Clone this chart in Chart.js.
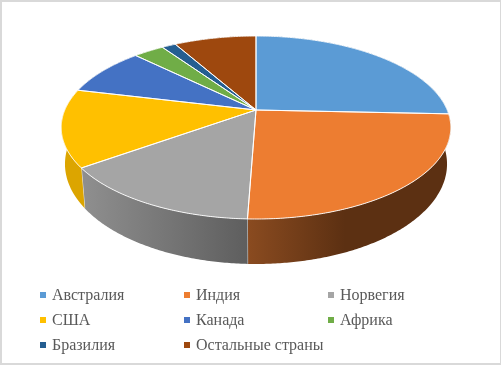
<!DOCTYPE html>
<html>
<head>
<meta charset="utf-8">
<style>
  html, body { margin: 0; padding: 0; background: #fff; }
  #wrap { position: relative; width: 501px; height: 365px; overflow: hidden; }
  #wrap:after { content: ''; position: absolute; left: 0; top: 0; right: 0; bottom: 0;
    border: solid #d9d9d9; border-width: 2px 1px 2px 2px; }
  canvas { position: absolute; left: 0; top: 0; }
  #legend { position: absolute; left: 40px; top: 282px; display: grid;
    grid-template-columns: 144px 144px 144px; grid-auto-rows: 25px;
    font: 16px "Liberation Serif", serif; color: #595959; }
  #legend div { display: flex; align-items: center; white-space: nowrap; }
  #legend i { width: 6px; height: 6px; margin-right: 6px; }
</style>
</head>
<body>
<div id="wrap">
  <canvas id="pie" width="501" height="365"></canvas>
  <div id="legend"></div>
</div>
<script src="https://cdn.jsdelivr.net/npm/chart.js@4"></script>
<script>
const categories = ['Австралия', 'Индия', 'Норвегия', 'США', 'Канада', 'Африка', 'Бразилия', 'Остальные страны'];
const shares = [25.7, 24.9, 14.5, 13.7, 8.6, 3.05, 1.4, 8.2];
const topColors = ['#5B9BD5', '#ED7D31', '#A5A5A5', '#FFC000', '#4472C4', '#70AD47', '#255E91', '#9E480E'];
const sideFrom = ['#3a6d9c', '#8a4b20', '#8e8e8e', '#dca500', '#2f528f', '#4e7a30', '#183f63', '#6b300a'];
const sideTo = ['#3a6d9c', '#5c3012', '#5e5e5e', '#dca500', '#2f528f', '#4e7a30', '#183f63', '#6b300a'];

// Наклонённый диск: проекция единичного круга на экран
const tilt = 0.1913;
const topDisc = { x: 256, y: 110, a: 191.2, b: 88.15 };
const baseDisc = { x: 256, y: 144.9, a: 187.5, b: 96.3 };

function project(disc, angle) {
  const u = Math.cos(angle), v = Math.sin(angle);
  const w = 1 - tilt * v;
  return [disc.x + disc.a * u / w, disc.y + disc.b * v / w];
}

function rimPoints(disc, start, end) {
  const pts = [];
  const steps = Math.max(2, Math.ceil((end - start) / 0.01));
  for (let i = 0; i <= steps; i++) pts.push(project(disc, start + (end - start) * i / steps));
  return pts;
}

const pie3d = {
  id: 'pie3d',
  beforeDatasetsDraw(chart) {
    const ctx = chart.ctx;
    const arcs = chart.getDatasetMeta(0).data;
    ctx.save();
    ctx.lineJoin = 'round';

    // боковые стенки
    arcs.forEach((arc, i) => {
      const upper = rimPoints(topDisc, arc.startAngle, arc.endAngle);
      const lower = rimPoints(baseDisc, arc.startAngle, arc.endAngle).reverse();
      const grad = ctx.createLinearGradient(i === 1 ? 248 : 86, 0, i === 1 ? 345 : 248, 0);
      grad.addColorStop(0, sideFrom[i]);
      grad.addColorStop(1, sideTo[i]);
      ctx.beginPath();
      upper.concat(lower).forEach((p, k) => k ? ctx.lineTo(p[0], p[1]) : ctx.moveTo(p[0], p[1]));
      ctx.closePath();
      ctx.fillStyle = grad;
      ctx.fill();
      // белая линия на стыке стенок
      const a = project(topDisc, arc.endAngle), b = project(baseDisc, arc.endAngle);
      if (Math.sin(arc.endAngle) > 0.3) {
        ctx.beginPath();
        ctx.moveTo(a[0], a[1]);
        ctx.lineTo(b[0], b[1]);
        ctx.strokeStyle = '#e8e8e8';
        ctx.lineWidth = 1;
        ctx.stroke();
      }
    });

    // верхняя грань
    arcs.forEach((arc, i) => {
      ctx.beginPath();
      ctx.moveTo(topDisc.x, topDisc.y);
      rimPoints(topDisc, arc.startAngle, arc.endAngle).forEach(p => ctx.lineTo(p[0], p[1]));
      ctx.closePath();
      ctx.fillStyle = topColors[i];
      ctx.fill();
    });
    arcs.forEach(arc => {
      ctx.beginPath();
      ctx.moveTo(topDisc.x, topDisc.y);
      rimPoints(topDisc, arc.startAngle, arc.endAngle).forEach(p => ctx.lineTo(p[0], p[1]));
      ctx.closePath();
      ctx.strokeStyle = 'rgba(255,255,255,0.9)';
      ctx.lineWidth = 1;
      ctx.stroke();
    });
    ctx.restore();
    return false;
  }
};

const chart = new Chart(document.getElementById('pie'), {
  type: 'pie',
  data: {
    labels: categories,
    datasets: [{ data: shares, backgroundColor: topColors, borderColor: '#fff' }]
  },
  options: {
    responsive: false,
    animation: false,
    plugins: { legend: { display: false }, tooltip: { enabled: false } }
  },
  plugins: [pie3d]
});

// Легенда в три колонки
const legend = document.getElementById('legend');
categories.forEach((name, i) => {
  const item = document.createElement('div');
  const mark = document.createElement('i');
  mark.style.background = topColors[i];
  item.appendChild(mark);
  item.appendChild(document.createTextNode(name));
  legend.appendChild(item);
});
</script>
</body>
</html>
